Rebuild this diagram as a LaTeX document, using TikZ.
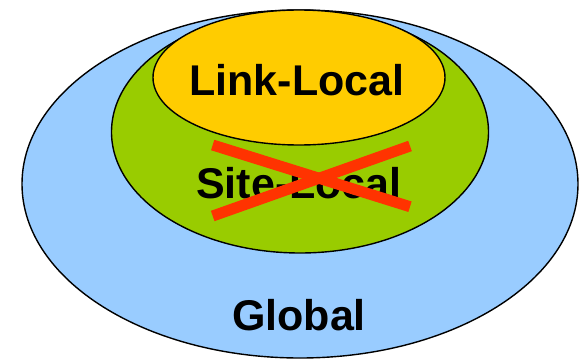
\documentclass[tikz,border=0pt]{standalone}
\usepackage{fontspec}
\setmainfont{Liberation Sans}
\usetikzlibrary{shapes.geometric}
\definecolor{globalblue}{HTML}{99CCFF}
\definecolor{sitegreen}{HTML}{99CC00}
\definecolor{linkyellow}{HTML}{FFCC00}
\definecolor{crossred}{HTML}{FF3300}
\begin{document}
\begin{tikzpicture}[x=1pt,y=-1pt,
  zone/.style={ellipse, draw=black, line width=1.4pt, inner sep=0pt},
  label/.style={anchor=base, inner sep=0pt, font=\fontsize{43}{43}\selectfont\bfseries},
  cross/.style={draw=crossred, line width=11pt}]
\useasboundingbox (0,0) rectangle (582,359);
\node[zone, fill=globalblue, minimum width=556pt, minimum height=348pt] (global) at (300,184) {};
\node[zone, fill=sitegreen, minimum width=377pt, minimum height=242pt] (site) at (300,132) {};
\node[zone, fill=linkyellow, minimum width=292pt, minimum height=135pt] (link) at (299,77.5) {};
\node[label] (linkt) at (297,95) {Link-Local};
\node[label] (sitet) at (299,198.5) {Site-Local};
\node[label] (globalt) at (299,330) {Global};
\coordinate (a1) at (212.7,145);
\coordinate (a2) at (410,206.7);
\coordinate (b1) at (212.7,216);
\coordinate (b2) at (410,146);
\draw[cross] (a1) -- (a2);
\draw[cross] (b1) -- (b2);
\end{tikzpicture}
\end{document}
